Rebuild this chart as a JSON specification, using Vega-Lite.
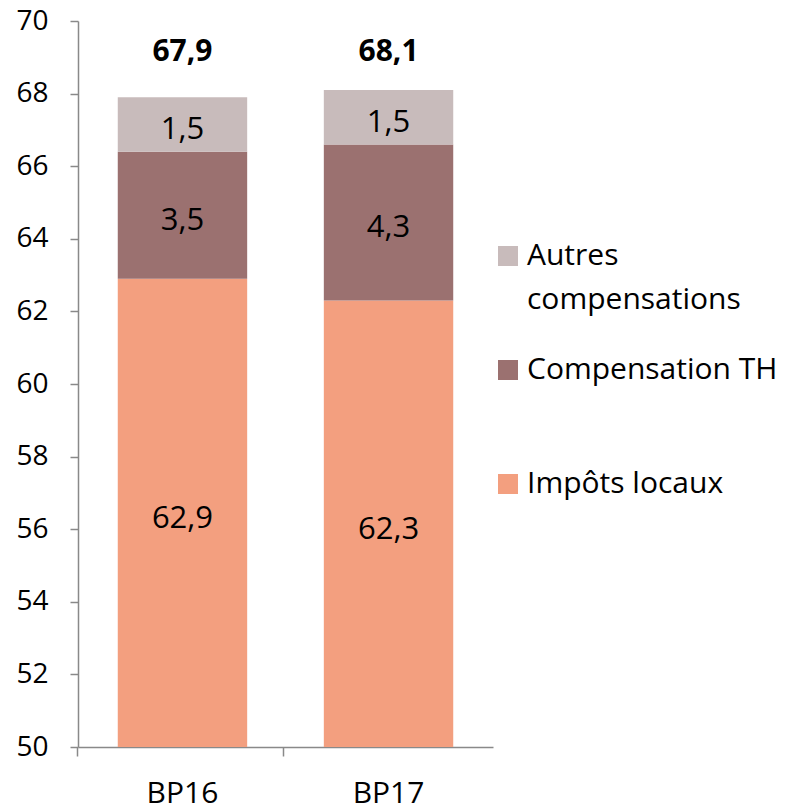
{
  "$schema": "https://vega.github.io/schema/vega-lite/v6.json",
  "width": 415,
  "height": 726,
  "autosize": {"type": "none"},
  "padding": {"left": 78, "top": 21, "right": 308, "bottom": 63},
  "config": {
    "view": {"stroke": null},
    "font": "Open Sans",
    "locale": {"number": {"decimal": ",", "thousands": " ", "grouping": [3], "currency": ["", " €"]}}
  },
  "data": {
    "values": [
      {"budget": "BP16", "poste": "Impôts locaux", "valeur": 62.9, "rang": 1},
      {"budget": "BP16", "poste": "Compensation TH", "valeur": 3.5, "rang": 2},
      {"budget": "BP16", "poste": "Autres compensations", "valeur": 1.5, "rang": 3},
      {"budget": "BP17", "poste": "Impôts locaux", "valeur": 62.3, "rang": 1},
      {"budget": "BP17", "poste": "Compensation TH", "valeur": 4.3, "rang": 2},
      {"budget": "BP17", "poste": "Autres compensations", "valeur": 1.5, "rang": 3}
    ]
  },
  "transform": [
    {"stack": "valeur", "groupby": ["budget"], "sort": [{"field": "rang", "order": "ascending"}], "as": ["bas", "haut"]},
    {"calculate": "(max(datum.bas, 50) + datum.haut) / 2", "as": "milieu"},
    {"joinaggregate": [{"op": "sum", "field": "valeur", "as": "total"}], "groupby": ["budget"]}
  ],
  "resolve": {"axis": {"x": "independent"}},
  "layer": [
    {
      "mark": {"type": "bar", "clip": true},
      "encoding": {
        "x": {
          "field": "budget", "type": "nominal",
          "scale": {"paddingInner": 0.372, "paddingOuter": 0.193},
          "axis": {"orient": "bottom", "title": null, "labelAngle": 0, "ticks": false, "domainColor": "#898989", "domainWidth": 1.5, "labelFontSize": 30, "labelColor": "black", "labelPadding": 31}
        },
        "y": {
          "field": "bas", "type": "quantitative",
          "scale": {"domain": [50, 70], "nice": false, "zero": false},
          "axis": {"title": null, "values": [50, 52, 54, 56, 58, 60, 62, 64, 66, 68, 70], "grid": false, "domainColor": "#898989", "domainWidth": 1.5, "tickColor": "#898989", "tickWidth": 1.5, "tickSize": 8, "labelFontSize": 28, "labelColor": "black", "labelPadding": 22}
        },
        "y2": {"field": "haut"},
        "color": {
          "field": "poste", "type": "nominal",
          "scale": {"domain": ["Autres compensations", "Compensation TH", "Impôts locaux"], "range": ["#C8BBBB", "#9B7170", "#F39F7F"]},
          "legend": {
            "orient": "none", "legendX": 415, "legendY": 220, "title": null, "padding": 0,
            "symbolType": "square", "symbolSize": 400, "symbolStrokeWidth": 0,
            "labelFontSize": 30, "labelOffset": 4, "labelLimit": 400, "rowPadding": 40,
            "labelBaseline": "top",
            "labelExpr": "datum.label == 'Autres compensations' ? ['Autres', 'compensations'] : [datum.label, '']",
            "encode": {"labels": {"update": {"lineHeight": {"value": 44}, "dy": {"value": -15}}}}
          }
        }
      }
    },
    {
      "mark": {"type": "text", "fontSize": 31, "color": "black", "dy": 6},
      "encoding": {
        "x": {
          "field": "budget", "type": "nominal",
          "axis": {"orient": "bottom", "title": null, "labels": false, "domain": false, "ticks": true, "bandPosition": -0.31, "tickColor": "#898989", "tickWidth": 1.5, "tickSize": 9}
        },
        "y": {"field": "milieu", "type": "quantitative"},
        "text": {"field": "valeur", "type": "quantitative", "format": ".1f"}
      }
    },
    {
      "transform": [{"filter": "datum.rang == 3"}],
      "mark": {"type": "text", "fontSize": 30, "fontWeight": "bold", "color": "black"},
      "encoding": {
        "x": {"field": "budget", "type": "nominal", "axis": null},
        "y": {"datum": 69.15},
        "text": {"field": "total", "type": "quantitative", "format": ".1f"}
      }
    }
  ]
}
